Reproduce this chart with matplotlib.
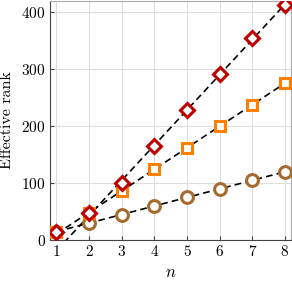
import numpy as np
import matplotlib
matplotlib.use("Agg")
import matplotlib.pyplot as plt

plt.rcParams['font.family'] = 'serif'
plt.rcParams['font.serif'] = ['cmr10']
plt.rcParams['mathtext.fontset'] = 'cm'
plt.rcParams['axes.formatter.use_mathtext'] = True

n = [1, 2, 3, 4, 5, 6, 7, 8]
rank_red = [15, 48, 100, 165, 228, 292, 354, 413]
rank_orange = [15, 48, 87, 125, 162, 200, 238, 275]
rank_brown = [15, 30, 45, 60, 75, 90, 105, 120]

series = [
    (rank_brown, 'o', '#a6692e', 8.5),
    (rank_orange, 's', '#ff8000', 7.5),
    (rank_red, 'D', '#c00000', 7.5),
]

fig = plt.figure(figsize=(2.92, 2.89), dpi=100)
ax = fig.add_axes([0.171, 0.169, 0.825, 0.828])

x = np.array(n, dtype=float)
xs = np.linspace(1, 8, 50)
for vals, m, c, ms in series:
    y = np.array(vals, dtype=float)
    # linear fit, first point left out
    k, b = np.polyfit(x[1:], y[1:], 1)
    ax.plot(xs, k * xs + b, '--', color='black', lw=1.2, dashes=(4, 2.5), zorder=2)
for vals, m, c, ms in series:
    ax.plot(n, vals, m, color=c, mfc='white', mec=c, mew=2.2, ms=ms, zorder=3)

ax.set_xlim(0.8, 8.18)
ax.set_ylim(0, 420)
ax.set_xticks(n)
ax.set_yticks([0, 100, 200, 300, 400])
ax.grid(True, color='#dddddd', lw=0.8)
ax.set_axisbelow(True)
ax.tick_params(direction='in', length=3, width=0.8, labelsize=11, color='#444444', pad=3)
for s in ['left', 'bottom']:
    ax.spines[s].set_color('#444444')
for s in ['top', 'right']:
    ax.spines[s].set_color('#aaaaaa')
ax.set_xlabel('$n$', fontsize=12)
ax.set_ylabel('Effective rank', fontsize=11.5)
ax.xaxis.labelpad = 4
ax.yaxis.labelpad = 5

fig.savefig('out.png', dpi=100)
